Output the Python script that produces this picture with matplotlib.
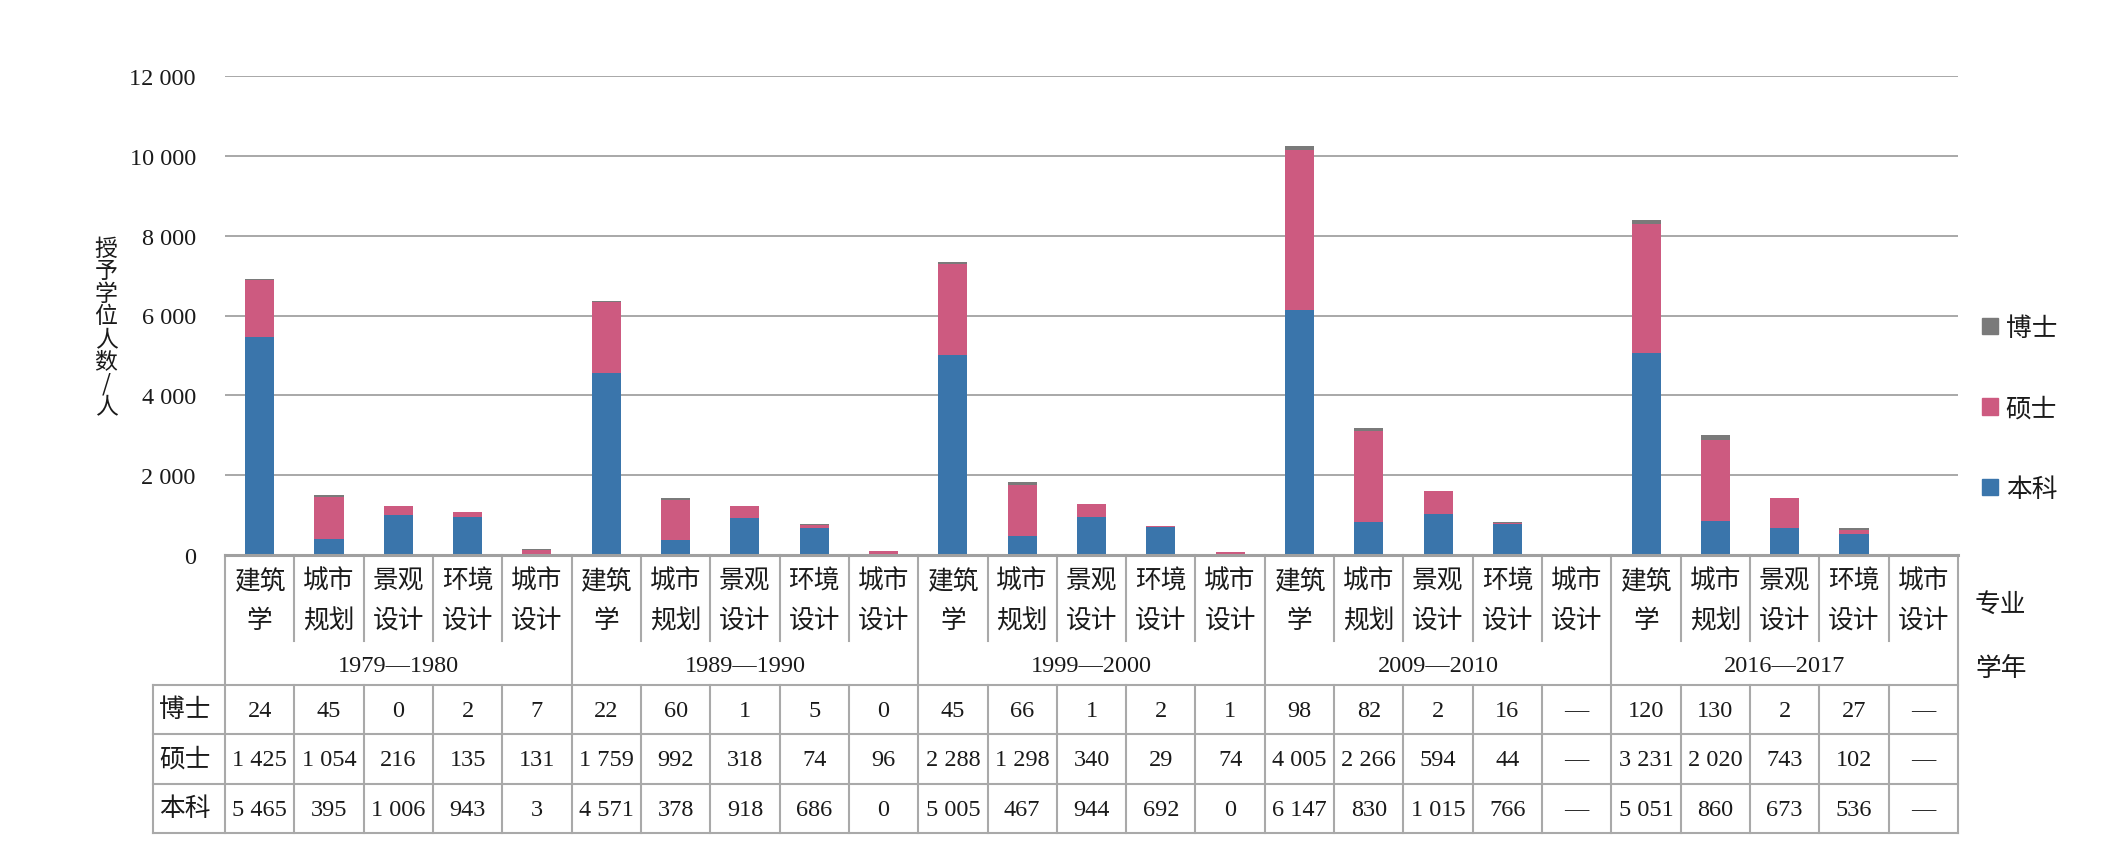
import matplotlib
matplotlib.use("Agg")
import matplotlib.pyplot as plt
import matplotlib.transforms as mtransforms
from matplotlib.patches import Patch
import numpy as np

# ---------------- data ----------------
major_lines = [("建筑", "学"), ("城市", "规划"), ("景观", "设计"), ("环境", "设计"), ("城市", "设计")]
years = ["1979—1980", "1989—1990", "1999—2000", "2009—2010", "2016—2017"]
series_names = ["本科", "硕士", "博士"]
doctor = [24, 45, 0, 2, 7, 22, 60, 1, 5, 0, 45, 66, 1, 2, 1, 98, 82, 2, 16, None, 120, 130, 2, 27, None]
master = [1425, 1054, 216, 135, 131, 1759, 992, 318, 74, 96, 2288, 1298, 340, 29, 74,
          4005, 2266, 594, 44, None, 3231, 2020, 743, 102, None]
bachelor = [5465, 395, 1006, 943, 3, 4571, 378, 918, 686, 0, 5005, 467, 944, 692, 0,
            6147, 830, 1015, 766, None, 5051, 860, 673, 536, None]
yticks = [0, 2000, 4000, 6000, 8000, 10000, 12000]
ylabel = "授予学位人数/人"

colors = {"本科": "#3A75AB", "硕士": "#CD5A80", "博士": "#7A7A7A"}
CJK = ["Noto Sans CJK SC", "DejaVu Sans"]
SERIF = ["Liberation Serif", "DejaVu Serif"]
CJK_SIZE = 18.5
NUM_SIZE = 17.5

W, H = 2123, 853
fig = plt.figure(figsize=(W / 100, H / 100), dpi=100)
AX_L, AX_R, AX_T, AX_B = 225, 1958, 77, 556
ax = fig.add_axes([AX_L / W, (H - AX_B) / H, (AX_R - AX_L) / W, (AX_B - AX_T) / H])

n = len(bachelor)
x = np.arange(n)
b = np.array([v if v is not None else 0 for v in bachelor], float)
m = np.array([v if v is not None else 0 for v in master], float)
d = np.array([v if v is not None else 0 for v in doctor], float)
bw = 0.42
ax.bar(x, b, bw, color=colors["本科"], zorder=3)
ax.bar(x, m, bw, bottom=b, color=colors["硕士"], zorder=3)
ax.bar(x, d, bw, bottom=b + m, color=colors["博士"], zorder=3)

ax.set_xlim(-0.5, n - 0.5)
ax.set_ylim(0, 12000)
ax.set_yticks(yticks)
ax.set_yticklabels([f"{v:,}".replace(",", " ") for v in yticks], fontfamily=SERIF, fontsize=NUM_SIZE, color="#1a1a1a")
ax.tick_params(axis="y", length=0, pad=21)
ax.set_xticks([])
for s in ax.spines.values():
    s.set_visible(False)
ax.yaxis.grid(True, color="#A8A8A8", lw=1.4)
ax.set_axisbelow(True)

# y label, stacked characters
ys = np.linspace(249, 407, len(ylabel))
for ch, yy in zip(ylabel, ys):
    fig.text(106 / W, (H - yy) / H, ch, ha="center", va="center", fontsize=16.5, family=CJK, color="#1a1a1a")

# ---------------- table ----------------
trans = mtransforms.blended_transform_factory(ax.transData, ax.transAxes)
def py(ypx):
    return (AX_B - ypx) / (AX_B - AX_T)

lc = "#A9A9A9"
lw = 1.5
x_left_ax = (153 - AX_L) / (AX_R - AX_L)
ROW_CAT_END, ROW_YEAR_END = 642, 686
rows_y = [686, 735, 785, 834]

ax.plot([-0.5, n - 0.5], [py(AX_B)] * 2, transform=trans, color="#A0A0A0", lw=2.2, clip_on=False, zorder=5)
for yy in rows_y:
    ax.plot([x_left_ax, 1.0], [py(yy)] * 2, transform=ax.transAxes, color=lc, lw=lw, clip_on=False)
ax.plot([x_left_ax] * 2, [py(686), py(834)], transform=ax.transAxes, color=lc, lw=lw, clip_on=False)
for k in range(n + 1):
    xb = k - 0.5
    if k % 5 == 0:
        ax.plot([xb, xb], [py(AX_B), py(834)], transform=trans, color=lc, lw=lw, clip_on=False)
    else:
        ax.plot([xb, xb], [py(AX_B), py(ROW_CAT_END)], transform=trans, color=lc, lw=lw, clip_on=False)
        ax.plot([xb, xb], [py(ROW_YEAR_END), py(834)], transform=trans, color=lc, lw=lw, clip_on=False)

# category labels
for i in range(n):
    l1, l2 = major_lines[i % 5]
    ax.text(i, py(582), l1, transform=trans, ha="center", va="center", fontsize=CJK_SIZE, family=CJK, color="#1a1a1a")
    ax.text(i, py(621), l2, transform=trans, ha="center", va="center", fontsize=CJK_SIZE, family=CJK, color="#1a1a1a")
# year labels
for g, yr in enumerate(years):
    ax.text(g * 5 + 2, py(666), yr, transform=trans, ha="center", va="center", fontsize=NUM_SIZE, family=SERIF, color="#1a1a1a")

def fmt(v):
    if v is None:
        return "—"
    return f"{v:,}".replace(",", " ")

row_data = [("博士", doctor), ("硕士", master), ("本科", bachelor)]
for r, (name, vals) in enumerate(row_data):
    yc = (rows_y[r] + rows_y[r + 1]) / 2
    ax.text(x_left_ax + 6 / (AX_R - AX_L), py(yc), name, transform=ax.transAxes, ha="left", va="center",
            fontsize=CJK_SIZE, family=CJK, color="#1a1a1a")
    for i, v in enumerate(vals):
        ax.text(i, py(yc + 1), fmt(v), transform=trans, ha="center", va="center", fontsize=NUM_SIZE,
                family=SERIF, color="#1a1a1a")

xr = (1975 - AX_L) / (AX_R - AX_L)
ax.text(xr, py(605), "专业", transform=ax.transAxes, ha="left", va="center", fontsize=CJK_SIZE, family=CJK, color="#1a1a1a")
ax.text(xr, py(669), "学年", transform=ax.transAxes, ha="left", va="center", fontsize=CJK_SIZE, family=CJK, color="#1a1a1a")

handles = [Patch(color=colors[s]) for s in series_names[::-1]]
leg = fig.legend(handles, series_names[::-1], loc="upper left", bbox_to_anchor=(1982 / W, (H - 316) / H),
                 frameon=False, borderpad=0, borderaxespad=0, handlelength=0.62, handleheight=0.62,
                 handletextpad=0.3, labelspacing=2.12, prop={"family": CJK, "size": CJK_SIZE})
for t in leg.get_texts():
    t.set_color("#1a1a1a")

fig.savefig("out.png", dpi=100, facecolor="white")
